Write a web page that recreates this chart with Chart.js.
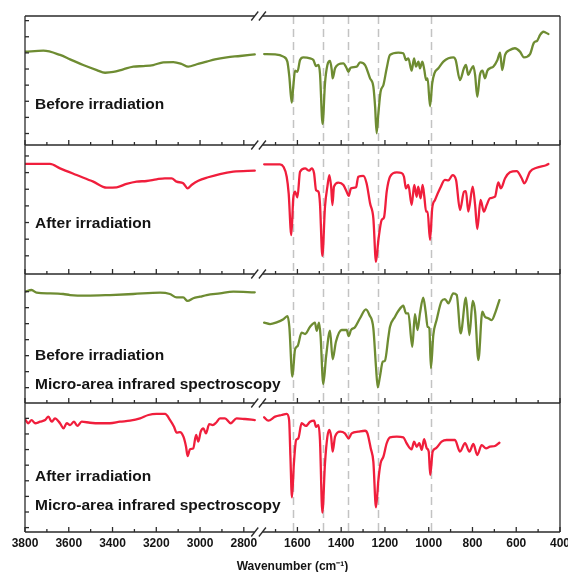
<!DOCTYPE html>
<html>
<head>
<meta charset="utf-8">
<script src="https://cdn.jsdelivr.net/npm/chart.js@4.4.1/dist/chart.umd.min.js"></script>
<style>
  html, body { margin: 0; padding: 0; background: #fff; }
</style>
</head>
<body>
<canvas id="ir" width="568" height="572"></canvas>
<script>
// Spectra (transmittance, arbitrary units: 0 = panel bottom, 100 = panel top)
var p1Wn = [3800, 3716, 3640, 3594, 3534, 3472, 3434, 3396, 3351, 3305, 3259, 3214, 3168, 3122, 3084, 3054, 3015, 2970, 2932, 2878, 2817, 2750,
    1752, 1702, 1664, 1646, 1637, 1626, 1619, 1611, 1600, 1588, 1573, 1542, 1527, 1515, 1504, 1497, 1485, 1474, 1463, 1451,
    1443, 1439, 1428, 1413, 1390, 1375, 1367, 1357, 1329, 1314, 1291, 1268, 1253, 1245, 1238, 1230, 1220, 1207, 1192,
    1177, 1139, 1116, 1104, 1093, 1078, 1067, 1058, 1047, 1040, 1029, 1020, 1012, 1005, 994, 984, 974, 956, 933, 910,
    887, 877, 857, 839, 830, 819, 808, 796, 788, 778, 766, 754, 743, 732, 720, 705, 686, 674, 664, 651,
    629, 606, 583, 565, 537, 519, 504, 491, 476, 453];
var p1T = [72.3, 73.1, 69.8, 66.4, 62.0, 58.1, 56.0, 56.6, 58.7, 60.7, 61.2, 62.0, 64.1, 64.3, 62.8, 60.7, 62.6, 64.6, 66.4, 68.0, 69.0, 70.3,
    70.5, 70.3, 68.5, 64.6, 53, 32.8, 45.2, 57.6, 56.8, 65.9, 68, 67.2, 65.9, 61.2, 62, 55.6, 16.3, 47.8, 62, 65.1,
    58.1, 51.7, 59.5, 62.5, 63.3, 59.5, 56.8, 59.9, 60.7, 64.1, 62, 51.7, 45.2, 29.7, 9.1, 24.6, 41.3, 46.5, 59.5,
    69.8, 71.6, 71.1, 65.9, 67.2, 57.6, 67.2, 60.7, 64.6, 59.5, 64.6, 58.1, 50.4, 51.7, 30, 47.8, 55.6, 59.5, 64.6, 67.2,
    68, 65.9, 50.4, 59.5, 62, 54.3, 58.1, 61.2, 54.3, 37.4, 54.3, 57.6, 51.7, 57.6, 59.5, 60.7, 65.9, 71.6, 58.1, 69.8,
    73.6, 75, 72.4, 68, 70.5, 79.3, 80.9, 85.3, 87.8, 86];

var p2Wn = [3800, 3686, 3640, 3564, 3488, 3427, 3381, 3336, 3290, 3244, 3199, 3161, 3130, 3107, 3077, 3057, 3039, 3008, 2963, 2909, 2848, 2750,
    1752, 1680, 1664, 1649, 1640, 1628, 1619, 1611, 1600, 1588, 1565, 1546, 1535, 1524, 1515, 1504, 1497, 1486, 1474, 1463,
    1454, 1446, 1440, 1433, 1413, 1390, 1375, 1366, 1355, 1332, 1322, 1299, 1284, 1268, 1253, 1241, 1230, 1215, 1204, 1192,
    1177, 1146, 1124, 1113, 1104, 1093, 1078, 1066, 1055, 1048, 1037, 1028, 1020, 1012, 1005, 994, 984, 971, 948, 926,
    910, 891, 875, 857, 839, 830, 819, 799, 788, 778, 763, 748, 735, 720, 697, 682, 670, 651, 629, 598,
    575, 563, 537, 507, 461, 453];
var p2T = [85.3, 85.3, 81.9, 76.7, 71.6, 66.9, 67.2, 69.8, 71.6, 72.1, 73.4, 74.2, 74.2, 71.6, 70.3, 66.4, 69, 72.3, 75, 77.5, 79.3, 80.1,
    85, 85, 83.2, 75.4, 62.5, 30.2, 58.7, 63.8, 59.4, 79.3, 81.9, 80.1, 81.9, 78.1, 65.1, 63.8, 54.8, 14, 52.2, 67.7,
    76.7, 67.7, 53.5, 67.7, 70.8, 69, 63.8, 60.5, 66.4, 67.2, 75.4, 76, 70.3, 54.8, 43.2, 9.5, 26.4, 41.9, 44, 63.8,
    75.4, 78.8, 78.3, 75.4, 66.4, 69, 53.5, 69, 59.9, 67.7, 58.7, 69, 59.9, 48.3, 48.3, 26.4, 50.9, 57.4, 66.4, 72.9,
    72.6, 76.7, 72.9, 49.6, 63.8, 64.3, 48.3, 67.7, 53.5, 34.9, 57.4, 48.3, 53.5, 58.7, 59.9, 71.1, 66.4, 74.2, 78.8, 79.8,
    74.2, 70.3, 79.3, 82.4, 84.5, 85.3];

var p3Wn = [3800, 3770, 3747, 3686, 3625, 3594, 3518, 3412, 3305, 3183, 3138, 3107, 3077, 3057, 3031, 3000, 2970, 2909, 2848, 2750,
    1752, 1725, 1695, 1664, 1645, 1637, 1623, 1611, 1599, 1581, 1565, 1542, 1520, 1512, 1501, 1494, 1482, 1469, 1451, 1439,
    1424, 1398, 1375, 1366, 1355, 1337, 1314, 1287, 1271, 1253, 1241, 1233, 1223, 1210, 1200, 1184,
    1177, 1154, 1139, 1116, 1104, 1093, 1075, 1063, 1051, 1040, 1025, 1014, 1005, 997, 990, 979, 964, 941, 926, 910,
    888, 872, 854, 830, 814, 799, 788, 773, 755, 743, 728, 712, 697, 677];
var p3T = [86.3, 87.6, 85.5, 85, 84.5, 83.7, 83.2, 83.7, 84.5, 85.5, 84.5, 81.9, 81.9, 79.1, 81.2, 82.4, 83.7, 85, 86.3, 85.8,
    62.3, 61.2, 62.5, 64.9, 67.4, 59.1, 20.4, 41.6, 44.2, 54.5, 53.5, 59.1, 62.3, 56, 62.3, 51.4, 14.7, 35.9, 56, 33.9,
    47.5, 56.6, 56.6, 51.9, 56.6, 58.7, 65.7, 72.6, 68.2, 57.9, 28.1, 12.2, 20.4, 32, 32.8, 51.4,
    59.1, 66.9, 71.3, 75.4, 69.5, 69.5, 43.6, 68.8, 56.6, 69.5, 81.6, 70.8, 59.1, 57.9, 27, 52.7, 64.3, 79.1, 80.6, 77.3,
    85, 83.7, 54, 81.6, 52.7, 79.1, 70.8, 33.3, 70.8, 66.9, 65.7, 64.3, 69.5, 79.8];

var p4Wn = [3800, 3785, 3770, 3754, 3731, 3708, 3693, 3678, 3663, 3640, 3624, 3609, 3594, 3576, 3561, 3541, 3503, 3457, 3412, 3366,
    3320, 3274, 3236, 3199, 3183, 3160, 3137, 3119, 3107, 3092, 3076, 3064, 3057, 3046, 3031, 3018, 3008, 2997, 2985, 2973,
    2958, 2942, 2927, 2909, 2886, 2860, 2833, 2795, 2750,
    1752, 1733, 1702, 1672, 1649, 1638, 1632, 1625, 1616, 1606, 1596, 1581, 1561, 1542, 1524, 1515, 1504, 1497, 1486, 1474,
    1463, 1454, 1446, 1439, 1428, 1405, 1383, 1366, 1352, 1322, 1291, 1280, 1265, 1253, 1241, 1230, 1220, 1207, 1192, 1177,
    1146, 1116, 1101, 1078, 1067, 1055, 1043, 1032, 1021, 1009, 1000, 993, 982, 967, 941, 918, 880, 857, 834, 814,
    796, 778, 758, 738, 720, 697, 677];
var p4T = [87.4, 84.3, 86.8, 84.3, 85.5, 86.8, 89.4, 85.5, 88.1, 84.3, 80.4, 84.3, 82.9, 85.5, 82.2, 85.5, 84.7, 84.3, 84.3, 85.5,
    86.3, 88.1, 90.7, 91.5, 91.5, 91.5, 86.8, 81.6, 77, 77.5, 73.9, 66.1, 58.9, 64.1, 64.9, 75.2, 70, 77.8, 80.4, 76.5,
    83.7, 82.9, 84.7, 88.1, 88.1, 84.3, 88.1, 87.6, 86.8,
    88.9, 86.3, 89.4, 90.7, 91.5, 86.8, 58.4, 26.9, 53.3, 71.3, 72.6, 84.3, 82.2, 85.5, 86.3, 81.6, 82.9, 71.3, 15, 53.3,
    73.9, 79.1, 73.9, 62.3, 73.9, 77.8, 76.5, 72.6, 76.5, 77.8, 78.5, 76.5, 64.9, 54.5, 19.1, 40.3, 53.3, 58.4, 68.8, 73.4,
    73.9, 73.4, 68.8, 64.1, 70, 66.1, 68.8, 63.6, 71.9, 64.9, 62.3, 44.2, 62.3, 64.9, 70, 71.3, 71.3, 62.3, 68.8, 62.3,
    68.2, 59.7, 67.4, 64.9, 66.1, 66.7, 69.2];

var majorTicks = [3800, 3600, 3400, 3200, 3000, 2800, 1600, 1400, 1200, 1000, 800, 600, 400];
var minorTicks = [3700, 3500, 3300, 3100, 2900, 1700, 1500, 1300, 1100, 900, 700, 500];
var markerLines = [1620, 1485, 1368, 1233, 991];

var panelText = [
    ['Before irradiation'],
    ['After irradiation'],
    ['Before irradiation', 'Micro-area infrared spectroscopy'],
    ['After irradiation', 'Micro-area infrared spectroscopy']
];

// broken wavenumber axis: 3800-2750 | gap | 1760-400
var LEFT_HI = 3800, LEFT_LO = 2750, RIGHT_HI = 1760, RIGHT_LO = 400, GAP = 35;

function pos(wn) {
    if (wn >= LEFT_LO) return LEFT_HI - wn;
    return (LEFT_HI - LEFT_LO) + GAP + (RIGHT_HI - wn);
}
function wnAt(p) {
    if (p <= LEFT_HI - LEFT_LO) return LEFT_HI - p;
    return RIGHT_HI - (p - (LEFT_HI - LEFT_LO) - GAP);
}

var GREEN = '#6e8c32', RED = '#f01e3c', AXIS = '#2a2a2a';
var FONT = '"Liberation Sans", Arial, sans-serif';

var panels = [
    {wn: p1Wn, t: p1T, color: GREEN, labelAt: [31.5], tick0: 96.4, tickStep: 12.5},
    {wn: p2Wn, t: p2T, color: RED, labelAt: [39.3], tick0: 91.5, tickStep: 12.9},
    {wn: p3Wn, t: p3T, color: GREEN, labelAt: [36.4, 14.5], tick0: 86.3, tickStep: 12.4},
    {wn: p4Wn, t: p4T, color: RED, labelAt: [42.9, 20.4], tick0: 88.1, tickStep: 12.1}
];

function toPoints(wn, t) {
    var pts = [];
    var n = Math.min(wn.length, t.length);
    for (let k = 0; k < n; k++) {
        if (k > 0 && wn[k - 1] >= LEFT_LO && wn[k] <= RIGHT_HI) {
            pts.push({x: (pos(wn[k - 1]) + pos(wn[k])) / 2, y: null});
        }
        pts.push({x: pos(wn[k]), y: t[k]});
    }
    return pts;
}

var framePlugin = {
    id: 'frame',
    beforeDatasetsDraw: function (chart) {
        var ctx = chart.ctx, area = chart.chartArea, xs = chart.scales.x;
        ctx.save();
        ctx.strokeStyle = '#c3c3c3';
        ctx.lineWidth = 1.5;
        ctx.setLineDash([8, 5]);
        markerLines.forEach(function (w) {
            var px = Math.round(xs.getPixelForValue(pos(w))) + 0.5;
            ctx.beginPath();
            ctx.moveTo(px, area.top);
            ctx.lineTo(px, area.bottom);
            ctx.stroke();
        });
        ctx.restore();
    },
    afterDatasetsDraw: function (chart) {
        var ctx = chart.ctx, area = chart.chartArea, xs = chart.scales.x;
        var gapL = xs.getPixelForValue(pos(LEFT_LO));
        var gapR = xs.getPixelForValue(pos(RIGHT_HI));

        function seg(x1, y1, x2, y2) {
            ctx.beginPath();
            ctx.moveTo(x1, y1);
            ctx.lineTo(x2, y2);
            ctx.stroke();
        }

        ctx.save();
        ctx.strokeStyle = AXIS;
        ctx.lineWidth = 1.3;
        seg(area.left, area.top, area.left, area.bottom);
        seg(area.right, area.top, area.right, area.bottom);

        panels.forEach(function (p, i) {
            var ys = chart.scales['p' + i];
            var edges = i === 0 ? [ys.top, ys.bottom] : [ys.bottom];

            edges.forEach(function (y) {
                seg(area.left, y, gapL, y);
                seg(gapR, y, area.right, y);
                // break marks
                [gapL, gapR].forEach(function (gx) {
                    seg(gx - 3.5, y + 4.5, gx + 3.5, y - 4.5);
                });
            });

            majorTicks.forEach(function (w) {
                var px = xs.getPixelForValue(pos(w));
                seg(px, ys.bottom, px, ys.bottom - 5);
            });
            minorTicks.forEach(function (w) {
                var px = xs.getPixelForValue(pos(w));
                seg(px, ys.bottom, px, ys.bottom - 3);
            });
            for (let v = p.tick0; v > 2; v -= p.tickStep) {
                var py = ys.getPixelForValue(v);
                seg(area.left, py, area.left + 4, py);
            }

            ctx.fillStyle = '#141414';
            ctx.font = 'bold 15.5px ' + FONT;
            ctx.textBaseline = 'middle';
            ctx.textAlign = 'left';
            panelText[i].forEach(function (txt, j) {
                ctx.fillText(txt, area.left + 10, ys.getPixelForValue(p.labelAt[j]));
            });
        });
        ctx.restore();
    }
};

var scales = {
    x: {
        type: 'linear',
        min: pos(LEFT_HI),
        max: pos(RIGHT_LO),
        grid: {display: false, drawTicks: false},
        border: {display: false},
        afterBuildTicks: function (scale) {
            scale.ticks = majorTicks.map(function (w) { return {value: pos(w)}; });
        },
        afterFit: function (scale) {
            scale.height = 40;
            scale.paddingLeft = 0;
            scale.paddingRight = 0;
        },
        ticks: {
            autoSkip: false,
            maxRotation: 0,
            padding: 4,
            color: '#141414',
            font: {family: FONT, size: 12, weight: 'bold'},
            callback: function (value) { return String(Math.round(wnAt(value))); }
        },
        title: {
            display: true,
            text: 'Wavenumber (cm\u207B\u00B9)',
            color: '#141414',
            font: {family: FONT, size: 12, weight: 'bold'},
            padding: {top: 0, bottom: -2}
        }
    }
};

// stacked panels (last defined is placed on top)
for (let i = panels.length - 1; i >= 0; i--) {
    scales['p' + i] = {
        type: 'linear',
        position: 'left',
        stack: 'ir',
        stackWeight: 1,
        offset: false,
        min: 0,
        max: 100,
        grid: {display: false},
        border: {display: false},
        ticks: {display: false},
        afterFit: function (scale) { scale.width = 25; }
    };
}

var datasets = panels.map(function (p, i) {
    return {
        data: toPoints(p.wn, p.t),
        yAxisID: 'p' + i,
        borderColor: p.color,
        borderWidth: 2.3,
        pointRadius: 0,
        cubicInterpolationMode: 'monotone',
        spanGaps: false,
        borderJoinStyle: 'round',
        borderCapStyle: 'round'
    };
});

new Chart(document.getElementById('ir'), {
    type: 'line',
    data: {datasets: datasets},
    options: {
        responsive: false,
        animation: false,
        layout: {padding: {top: 16, right: 8, left: 0, bottom: 0}},
        plugins: {legend: {display: false}, tooltip: {enabled: false}},
        scales: scales
    },
    plugins: [framePlugin]
});
</script>
</body>
</html>
